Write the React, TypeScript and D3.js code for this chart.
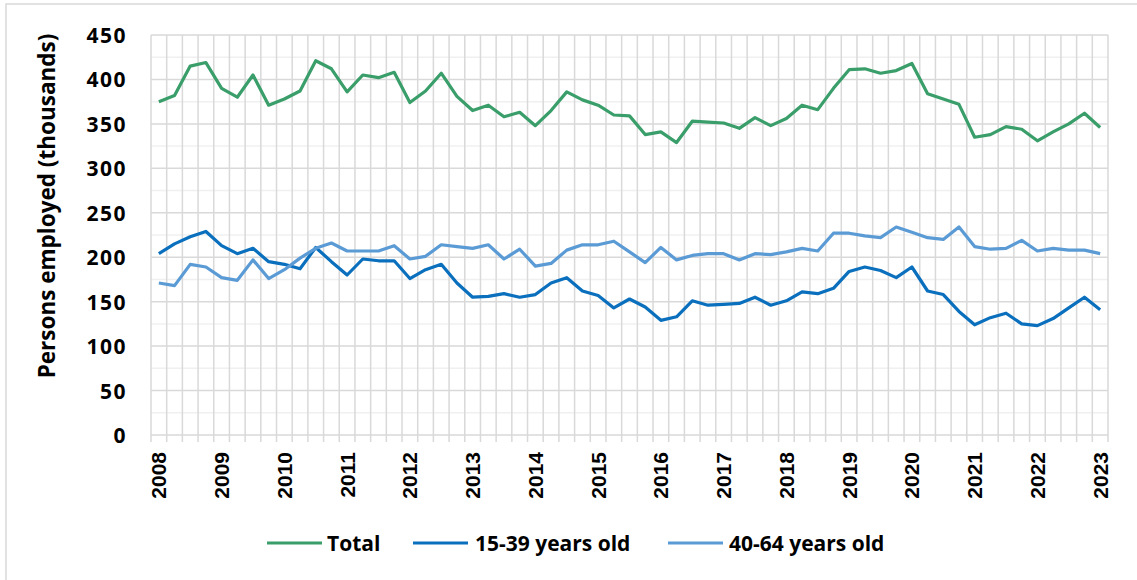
import { useMemo } from 'react';
import * as d3 from 'd3';

const WIDTH = 1137;
const HEIGHT = 580;

const PLOT = { left: 151, right: 1108, top: 35, bottom: 435 };

const FONT = "'Open Sans', 'Noto Sans', sans-serif";
const AXIS_FONT = "'Liberation Sans', Arial, sans-serif";

// years shown on the category axis (one label every 4 quarters)
const yearLabels = ['2008', '2009', '2010', '2011', '2012', '2013', '2014', '2015',
  '2016', '2017', '2018', '2019', '2020', '2021', '2022', '2023'];

const yTicks = [0, 50, 100, 150, 200, 250, 300, 350, 400, 450];

// quarterly values, 2008 Q1 .. 2023 Q1 (thousands)
const total = [375, 382, 415, 419, 390, 380, 405, 371, 378, 387, 421, 412, 386, 405, 402, 408,
  374, 387, 407, 381, 365, 371, 358, 363, 348, 365, 386, 377, 371, 360, 359, 338,
  341, 329, 353, 352, 351, 345, 357, 348, 356, 371, 366, 390, 411, 412, 407, 410,
  418, 384, 378, 372, 335, 338, 347, 344, 331, 341, 350, 362, 346];

const age15to39 = [204, 215, 223, 229, 213, 204, 210, 195, 192, 187, 211, 195, 180, 198, 196, 196,
  176, 186, 192, 171, 155, 156, 159, 155, 158, 171, 177, 162, 157, 143, 153, 144,
  129, 133, 151, 146, 147, 148, 155, 146, 151, 161, 159, 165, 184, 189, 185, 177,
  189, 162, 158, 139, 124, 132, 137, 125, 123, 131, 143, 155, 141];

const age40to64 = [171, 168, 192, 189, 177, 174, 197, 176, 186, 199, 210, 216, 207, 207, 207, 213,
  198, 201, 214, 212, 210, 214, 198, 209, 190, 193, 208, 214, 214, 218, 206, 194,
  211, 197, 202, 204, 204, 197, 204, 203, 206, 210, 207, 227, 227, 224, 222, 234,
  228, 222, 220, 234, 212, 209, 210, 219, 207, 210, 208, 208, 204];

const SERIES = [
  { name: 'Total', values: total, color: '#3a9e6a' },
  { name: '15-39 years old', values: age15to39, color: '#0a6fbd' },
  { name: '40-64 years old', values: age40to64, color: '#5b9bd5' },
];

const LEGEND = [
  { x: 267, textX: 327 },
  { x: 413, textX: 475 },
  { x: 668, textX: 729 },
];

export default function App() {
  // Q1..Q4 per year, trimmed to the number of points
  const quarters = useMemo(
    () => yearLabels.flatMap((y) => ['Q1', 'Q2', 'Q3', 'Q4'].map((q) => `${y} ${q}`)).slice(0, total.length),
    []
  );

  const xScale = d3.scaleBand<string>().domain(quarters).range([PLOT.left, PLOT.right]).padding(0);
  const yScale = d3.scaleLinear().domain([0, 450]).range([PLOT.bottom, PLOT.top]);
  const bw = xScale.bandwidth();
  const cx = (q: string) => xScale(q)! + bw / 2;

  const line = d3
    .line<number>()
    .x((_, i) => cx(quarters[i]))
    .y((d) => yScale(d));

  const boundaries = quarters.map((q) => xScale(q)!).concat([PLOT.right]);
  const minorTicks = d3.range(25, 450, 50);

  return (
    <svg width={WIDTH} height={HEIGHT} style={{ position: 'absolute', left: 0, top: 0, background: '#fff' }}>
      <rect x={6} y={4} width={WIDTH + 10} height={HEIGHT + 10} fill="#fff" stroke="#d9d9d9" strokeWidth={1.5} />

      {/* minor horizontal grid */}
      {minorTicks.map((t) => (
        <line key={'m' + t} x1={PLOT.left} x2={PLOT.right} y1={yScale(t)} y2={yScale(t)} stroke="#f0f0f0" strokeWidth={1.5} />
      ))}
      {/* vertical grid + tick marks */}
      {boundaries.map((x, i) => (
        <line key={'v' + i} x1={x} x2={x} y1={PLOT.top} y2={PLOT.bottom + 7} stroke="#d9d9d9" strokeWidth={1.5} />
      ))}
      {/* major horizontal grid */}
      {yTicks.map((t) => (
        <line key={'h' + t} x1={PLOT.left} x2={PLOT.right} y1={yScale(t)} y2={yScale(t)} stroke="#d9d9d9" strokeWidth={1.5} />
      ))}

      {SERIES.map((s) => (
        <path key={s.name} d={line(s.values)!} fill="none" stroke={s.color} strokeWidth={3.2} strokeLinejoin="round" />
      ))}

      {/* y axis labels */}
      {yTicks.map((t) => (
        <text key={'yl' + t} x={127} y={yScale(t)} textAnchor="end" dominantBaseline="central"
          fontFamily={FONT} fontWeight={700} fontSize={21} letterSpacing={1.5} fill="#000">
          {t}
        </text>
      ))}
      <text transform={`translate(55,206) rotate(-90)`} textAnchor="middle"
        fontFamily={FONT} fontWeight={700} fontSize={22.5} fill="#000">
        Persons employed (thousands)
      </text>

      {/* x axis labels */}
      {yearLabels.map((y, i) => {
        const q = quarters[i * 4];
        return (
          <text key={y} transform={`translate(${cx(q) + 7.5},452) rotate(-90)`} textAnchor="end"
            fontFamily={AXIS_FONT} fontWeight={700} fontSize={21} fill="#000">
            {y}
          </text>
        );
      })}

      {/* legend */}
      {SERIES.map((s, i) => (
        <g key={'lg' + i}>
          <line x1={LEGEND[i].x} x2={LEGEND[i].x + 55} y1={543} y2={543} stroke={s.color} strokeWidth={3.2} />
          <text x={LEGEND[i].textX} y={543} dominantBaseline="central"
            fontFamily={FONT} fontWeight={700} fontSize={21} fill="#000">
            {s.name}
          </text>
        </g>
      ))}
    </svg>
  );
}
